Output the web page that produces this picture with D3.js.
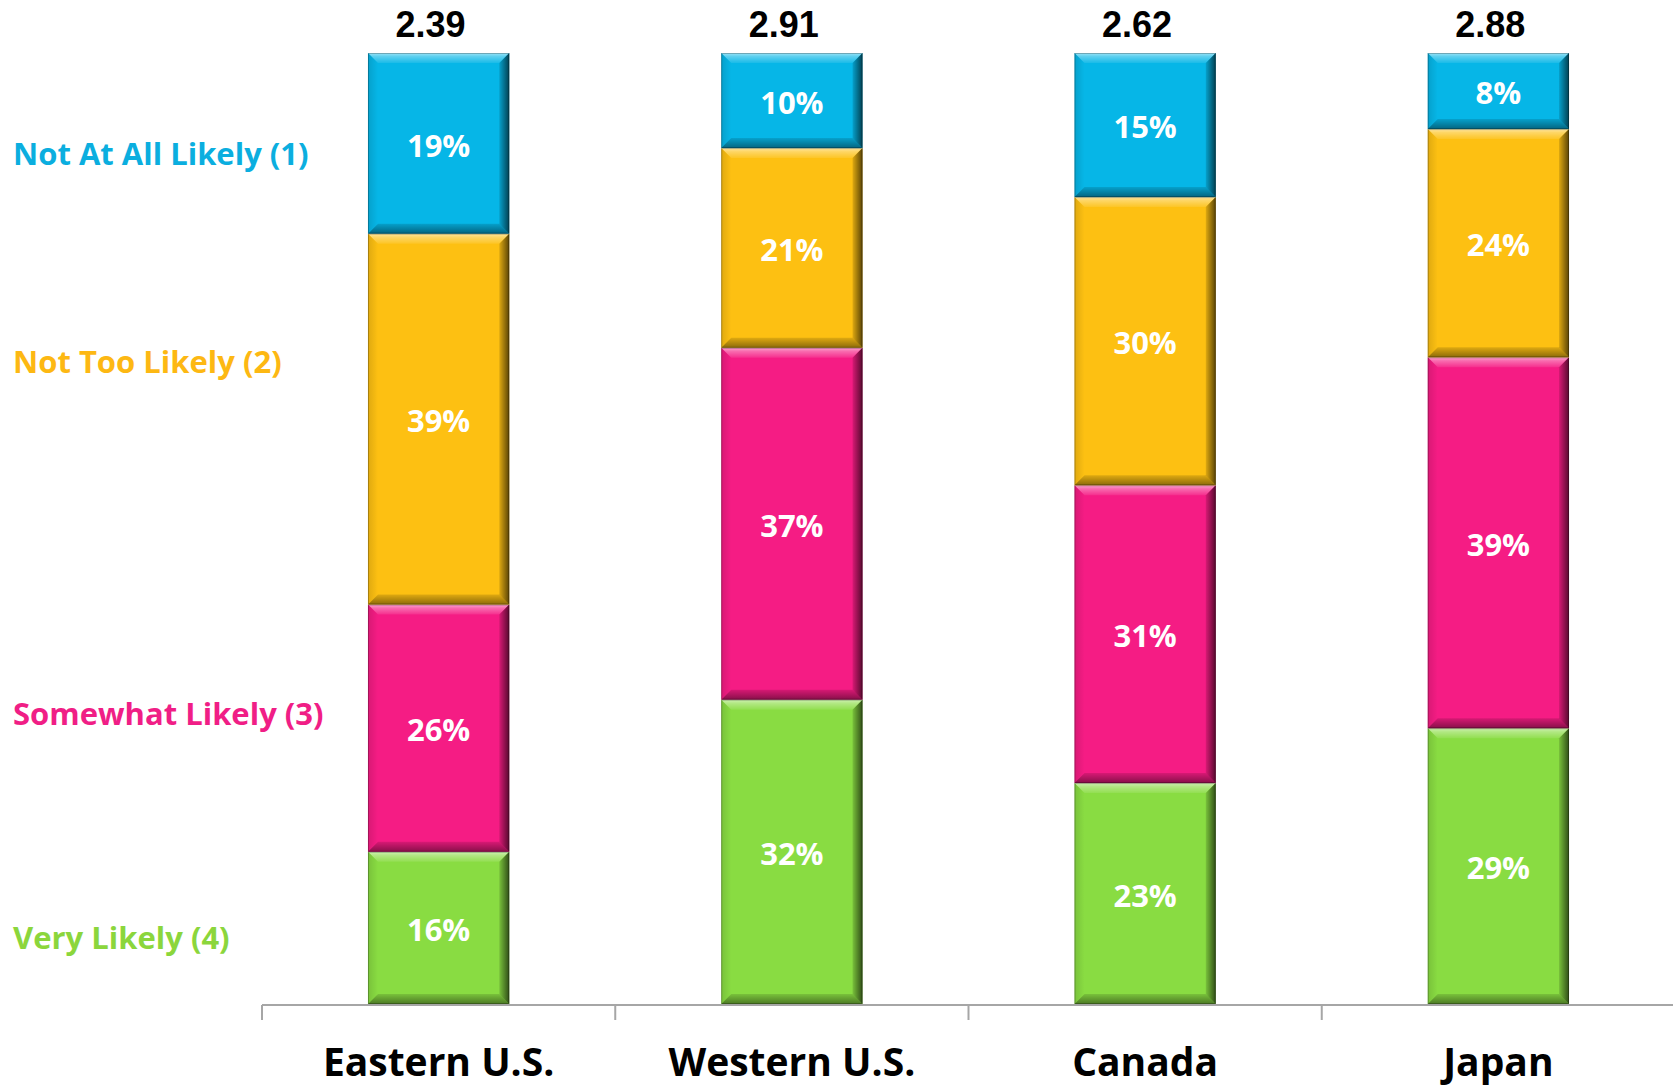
<!DOCTYPE html>
<html><head><meta charset="utf-8">
<script src="https://cdn.jsdelivr.net/npm/d3@7"></script>
<style>html,body{margin:0;padding:0;background:#fff;}svg{display:block;}</style>
</head><body>
<svg id="chart" width="1673" height="1090"></svg>
<script>
const categories = ["Eastern U.S.", "Western U.S.", "Canada", "Japan"];
const meanScores = [2.39, 2.91, 2.62, 2.88];
const veryLikely = [16, 32, 23, 29];
const somewhatLikely = [26, 37, 31, 39];
const notTooLikely = [39, 21, 30, 24];
const notAtAllLikely = [19, 10, 15, 8];
const seriesNames = ["Very Likely (4)", "Somewhat Likely (3)", "Not Too Likely (2)", "Not At All Likely (1)"];
const seriesKeys = ["v", "s", "n", "a"];

const colors = {v: "#89DC42", s: "#F51C84", n: "#FDC012", a: "#06B6E7"};
const textColors = {v: "#8BD63C", s: "#F01E86", n: "#FDB813", a: "#0BAEDF"};

const rows = categories.map((c, i) => ({cat: c, v: veryLikely[i], s: somewhatLikely[i], n: notTooLikely[i], a: notAtAllLikely[i]}));

const svg = d3.select("#chart");
const x = d3.scaleBand().domain(categories).range([262, 1675]).padding(0);
const y = d3.scaleLinear().domain([0, 1]).range([1004, 53]);
const barW = x.bandwidth() * 0.4;

const stacked = d3.stack().keys(seriesKeys).offset(d3.stackOffsetExpand)(rows);

const defs = svg.append("defs");
function lg(id, x1, y1, x2, y2, stops) {
  const g = defs.append("linearGradient").attr("id", id).attr("x1", x1).attr("y1", y1).attr("x2", x2).attr("y2", y2);
  stops.forEach(s => g.append("stop").attr("offset", s[0]).attr("stop-color", s[1]).attr("stop-opacity", s[2]));
}
lg("bTop", 0, 0, 0, 1, [[0, "#fff", 0.6], [0.35, "#fff", 0.35], [1, "#fff", 0.08]]);
lg("bBot", 0, 0, 0, 1, [[0, "#000", 0.12], [1, "#000", 0.45]]);
lg("bRight", 0, 0, 1, 0, [[0, "#000", 0.12], [1, "#000", 0.65]]);
lg("bLeft", 0, 0, 1, 0, [[0, "#000", 0.12], [1, "#000", 0.0]]);

const B = 10;
const segs = [];
stacked.forEach(layer => {
  layer.forEach((d, i) => {
    const cx = x(categories[i]) + x.bandwidth() / 2;
    segs.push({key: layer.key, x0: cx - barW / 2, x1: cx + barW / 2, yTop: y(d[1]), yBot: y(d[0]), val: rows[i][layer.key]});
  });
});

const g = svg.append("g");
const segG = g.selectAll("g.seg").data(segs).join("g").attr("class", "seg");
segG.append("rect")
  .attr("x", d => d.x0).attr("y", d => d.yTop)
  .attr("width", d => d.x1 - d.x0).attr("height", d => d.yBot - d.yTop)
  .attr("fill", d => colors[d.key]);
const poly = (pts) => pts.map(p => p.join(",")).join(" ");
segG.append("polygon").attr("fill", "url(#bTop)")
  .attr("points", d => poly([[d.x0, d.yTop], [d.x1, d.yTop], [d.x1 - B, d.yTop + B], [d.x0 + B, d.yTop + B]]));
segG.append("polygon").attr("fill", "url(#bBot)")
  .attr("points", d => poly([[d.x0, d.yBot], [d.x1, d.yBot], [d.x1 - B, d.yBot - B], [d.x0 + B, d.yBot - B]]));
segG.append("polygon").attr("fill", "url(#bRight)")
  .attr("points", d => poly([[d.x1, d.yTop], [d.x1, d.yBot], [d.x1 - B, d.yBot - B], [d.x1 - B, d.yTop + B]]));
segG.append("polygon").attr("fill", "url(#bLeft)")
  .attr("points", d => poly([[d.x0, d.yTop], [d.x0, d.yBot], [d.x0 + B, d.yBot - B], [d.x0 + B, d.yTop + B]]));
segG.append("rect")
  .attr("x", d => d.x0 + 0.5).attr("y", d => d.yTop + 0.5)
  .attr("width", d => d.x1 - d.x0 - 1).attr("height", d => d.yBot - d.yTop - 1)
  .attr("fill", "none").attr("stroke", "#000").attr("stroke-opacity", 0.25).attr("stroke-width", 1);

segG.append("text")
  .attr("x", d => (d.x0 + d.x1) / 2).attr("y", d => (d.yTop + d.yBot) / 2 + 2)
  .attr("dy", "0.36em").attr("text-anchor", "middle")
  .attr("fill", "#fff").attr("font-family", "'Open Sans', Lato, sans-serif").attr("font-weight", "bold")
  .attr("font-size", 31)
  .text(d => d.val + "%");

svg.selectAll("text.mean").data(categories).join("text").attr("class", "mean")
  .attr("x", d => x(d) + x.bandwidth() / 2 - 8).attr("y", 37)
  .attr("text-anchor", "middle").attr("font-family", "'Liberation Sans', Arial, sans-serif")
  .attr("font-weight", "bold").attr("font-size", 36).attr("fill", "#000")
  .text((d, i) => meanScores[i].toFixed(2));

const axisG = svg.append("g");
axisG.append("line").attr("x1", 262).attr("x2", 1673).attr("y1", 1005).attr("y2", 1005)
  .attr("stroke", "#A6A6A6").attr("stroke-width", 2);
axisG.selectAll("line.tick").data(categories).join("line").attr("class", "tick")
  .attr("x1", d => x(d)).attr("x2", d => x(d)).attr("y1", 1005).attr("y2", 1020)
  .attr("stroke", "#A6A6A6").attr("stroke-width", 2);
axisG.selectAll("text.cat").data(categories).join("text").attr("class", "cat")
  .attr("x", d => x(d) + x.bandwidth() / 2).attr("y", 1076)
  .attr("text-anchor", "middle").attr("font-family", "'Open Sans', Lato, sans-serif")
  .attr("font-weight", "bold").attr("font-size", 39).attr("fill", "#000")
  .text(d => d);

const legendY = {a: 165, n: 373, s: 725, v: 949};
svg.selectAll("text.leg").data(seriesKeys).join("text").attr("class", "leg")
  .attr("x", 13).attr("y", k => legendY[k])
  .attr("font-family", "'Open Sans', Lato, sans-serif").attr("font-weight", "bold")
  .attr("font-size", 31).attr("fill", k => textColors[k])
  .text((k, i) => seriesNames[i]);
</script>
</body></html>
